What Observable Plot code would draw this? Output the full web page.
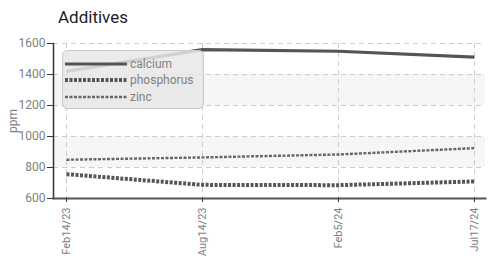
<!DOCTYPE html>
<html>
<head>
<meta charset="utf-8">
<script src="https://cdn.jsdelivr.net/npm/d3@7"></script>
<script src="https://cdn.jsdelivr.net/npm/@observablehq/plot@0.6"></script>
<style>
  body { margin:0; background:#fff; }
  #wrap { position:relative; width:495px; height:258px; overflow:hidden; font-family:Roboto, sans-serif; }
  #title { position:absolute; left:58px; top:7px; font-family:Roboto, sans-serif; font-size:17px; color:#222; }
  #legend { position:absolute; left:62px; top:50px; width:142px; height:59px; background:rgba(232,232,232,0.85); border:1px solid #c8c8c8; border-radius:5px; box-sizing:border-box; }
</style>
</head>
<body>
<div id="wrap"><div id="title">Additives</div></div>
<script>
const dates = ["Feb14/23", "Aug14/23", "Feb5/24", "Jul17/24"];
const calcium = [1420, 1560, 1550, 1512];
const phosphorus = [757, 688, 686, 710];
const zinc = [850, 865, 884, 925];
const yTicks = [600, 800, 1000, 1200, 1400, 1600];
const bands = [[800, 1000], [1200, 1400]];
const seriesNames = ["calcium", "phosphorus", "zinc"];

const styles = {
  calcium: {stroke: "#555", strokeWidth: 3.2, strokeDasharray: "none"},
  phosphorus: {stroke: "#555", strokeWidth: 4, strokeDasharray: "3,1.5"},
  zinc: {stroke: "#666", strokeWidth: 2.4, strokeDasharray: "3,1.5"}
};

const rows = (vals) => dates.map((d, i) => ({date: d, value: vals[i]}));
const data = {calcium: rows(calcium), phosphorus: rows(phosphorus), zinc: rows(zinc)};

const chart = Plot.plot({
  width: 495,
  height: 258,
  marginLeft: 53,
  marginRight: 10,
  marginTop: 43,
  marginBottom: 60,
  style: {fontFamily: 'Roboto, sans-serif', fontSize: "12px", color: "#808080", background: "transparent"},
  x: {type: "point", domain: dates, padding: 0, insetLeft: 12, insetRight: 10},
  y: {domain: [600, 1600]},
  marks: [
    Plot.rect(bands, {y1: d => d[0], y2: d => d[1], fill: "#f6f6f6"}),
    Plot.ruleY(yTicks, {stroke: "#ccc", strokeDasharray: "5,4"}),
    Plot.ruleX(dates, {stroke: "#ccc", strokeDasharray: "5,4"}),
    ...seriesNames.map(n => Plot.line(data[n], {x: "date", y: "value", ...styles[n], strokeLinejoin: "miter", strokeLinecap: "butt"})),
    Plot.frame({anchor: "left", stroke: "#333", strokeWidth: 1.5}),
    Plot.frame({anchor: "bottom", stroke: "#555", strokeWidth: 2}),
    Plot.axisY({ticks: yTicks, tickFormat: d => String(d), tickSize: 6, tickPadding: 2, stroke: "#333", label: "ppm", labelAnchor: "center", labelArrow: "none", labelOffset: 45, fontSize: 12}),
    Plot.axisX({tickRotate: -90, tickSize: 4, tickPadding: 5, stroke: "#333", label: null, fontSize: 11})
  ]
});
const wrap = document.getElementById("wrap");
chart.style.position = "absolute";
chart.style.left = "0";
chart.style.top = "0";
wrap.appendChild(chart);

// legend
const legend = document.createElement("div");
legend.id = "legend";
const ns = "http://www.w3.org/2000/svg";
const svg = document.createElementNS(ns, "svg");
svg.setAttribute("width", 142);
svg.setAttribute("height", 59);
const ys = [13, 29, 46];
seriesNames.forEach((n, i) => {
  const l = document.createElementNS(ns, "line");
  l.setAttribute("x1", 2); l.setAttribute("x2", 64);
  l.setAttribute("y1", ys[i]); l.setAttribute("y2", ys[i]);
  l.setAttribute("stroke", styles[n].stroke);
  l.setAttribute("stroke-width", styles[n].strokeWidth);
  l.setAttribute("stroke-dasharray", styles[n].strokeDasharray);
  svg.appendChild(l);
  const t = document.createElementNS(ns, "text");
  t.setAttribute("x", 67); t.setAttribute("y", ys[i] + 4);
  t.setAttribute("fill", "#808080");
  t.setAttribute("font-size", "12px");
  t.setAttribute("font-family", 'Roboto, sans-serif');
  t.textContent = n;
  svg.appendChild(t);
});
legend.appendChild(svg);
wrap.appendChild(legend);
</script>
</body>
</html>
